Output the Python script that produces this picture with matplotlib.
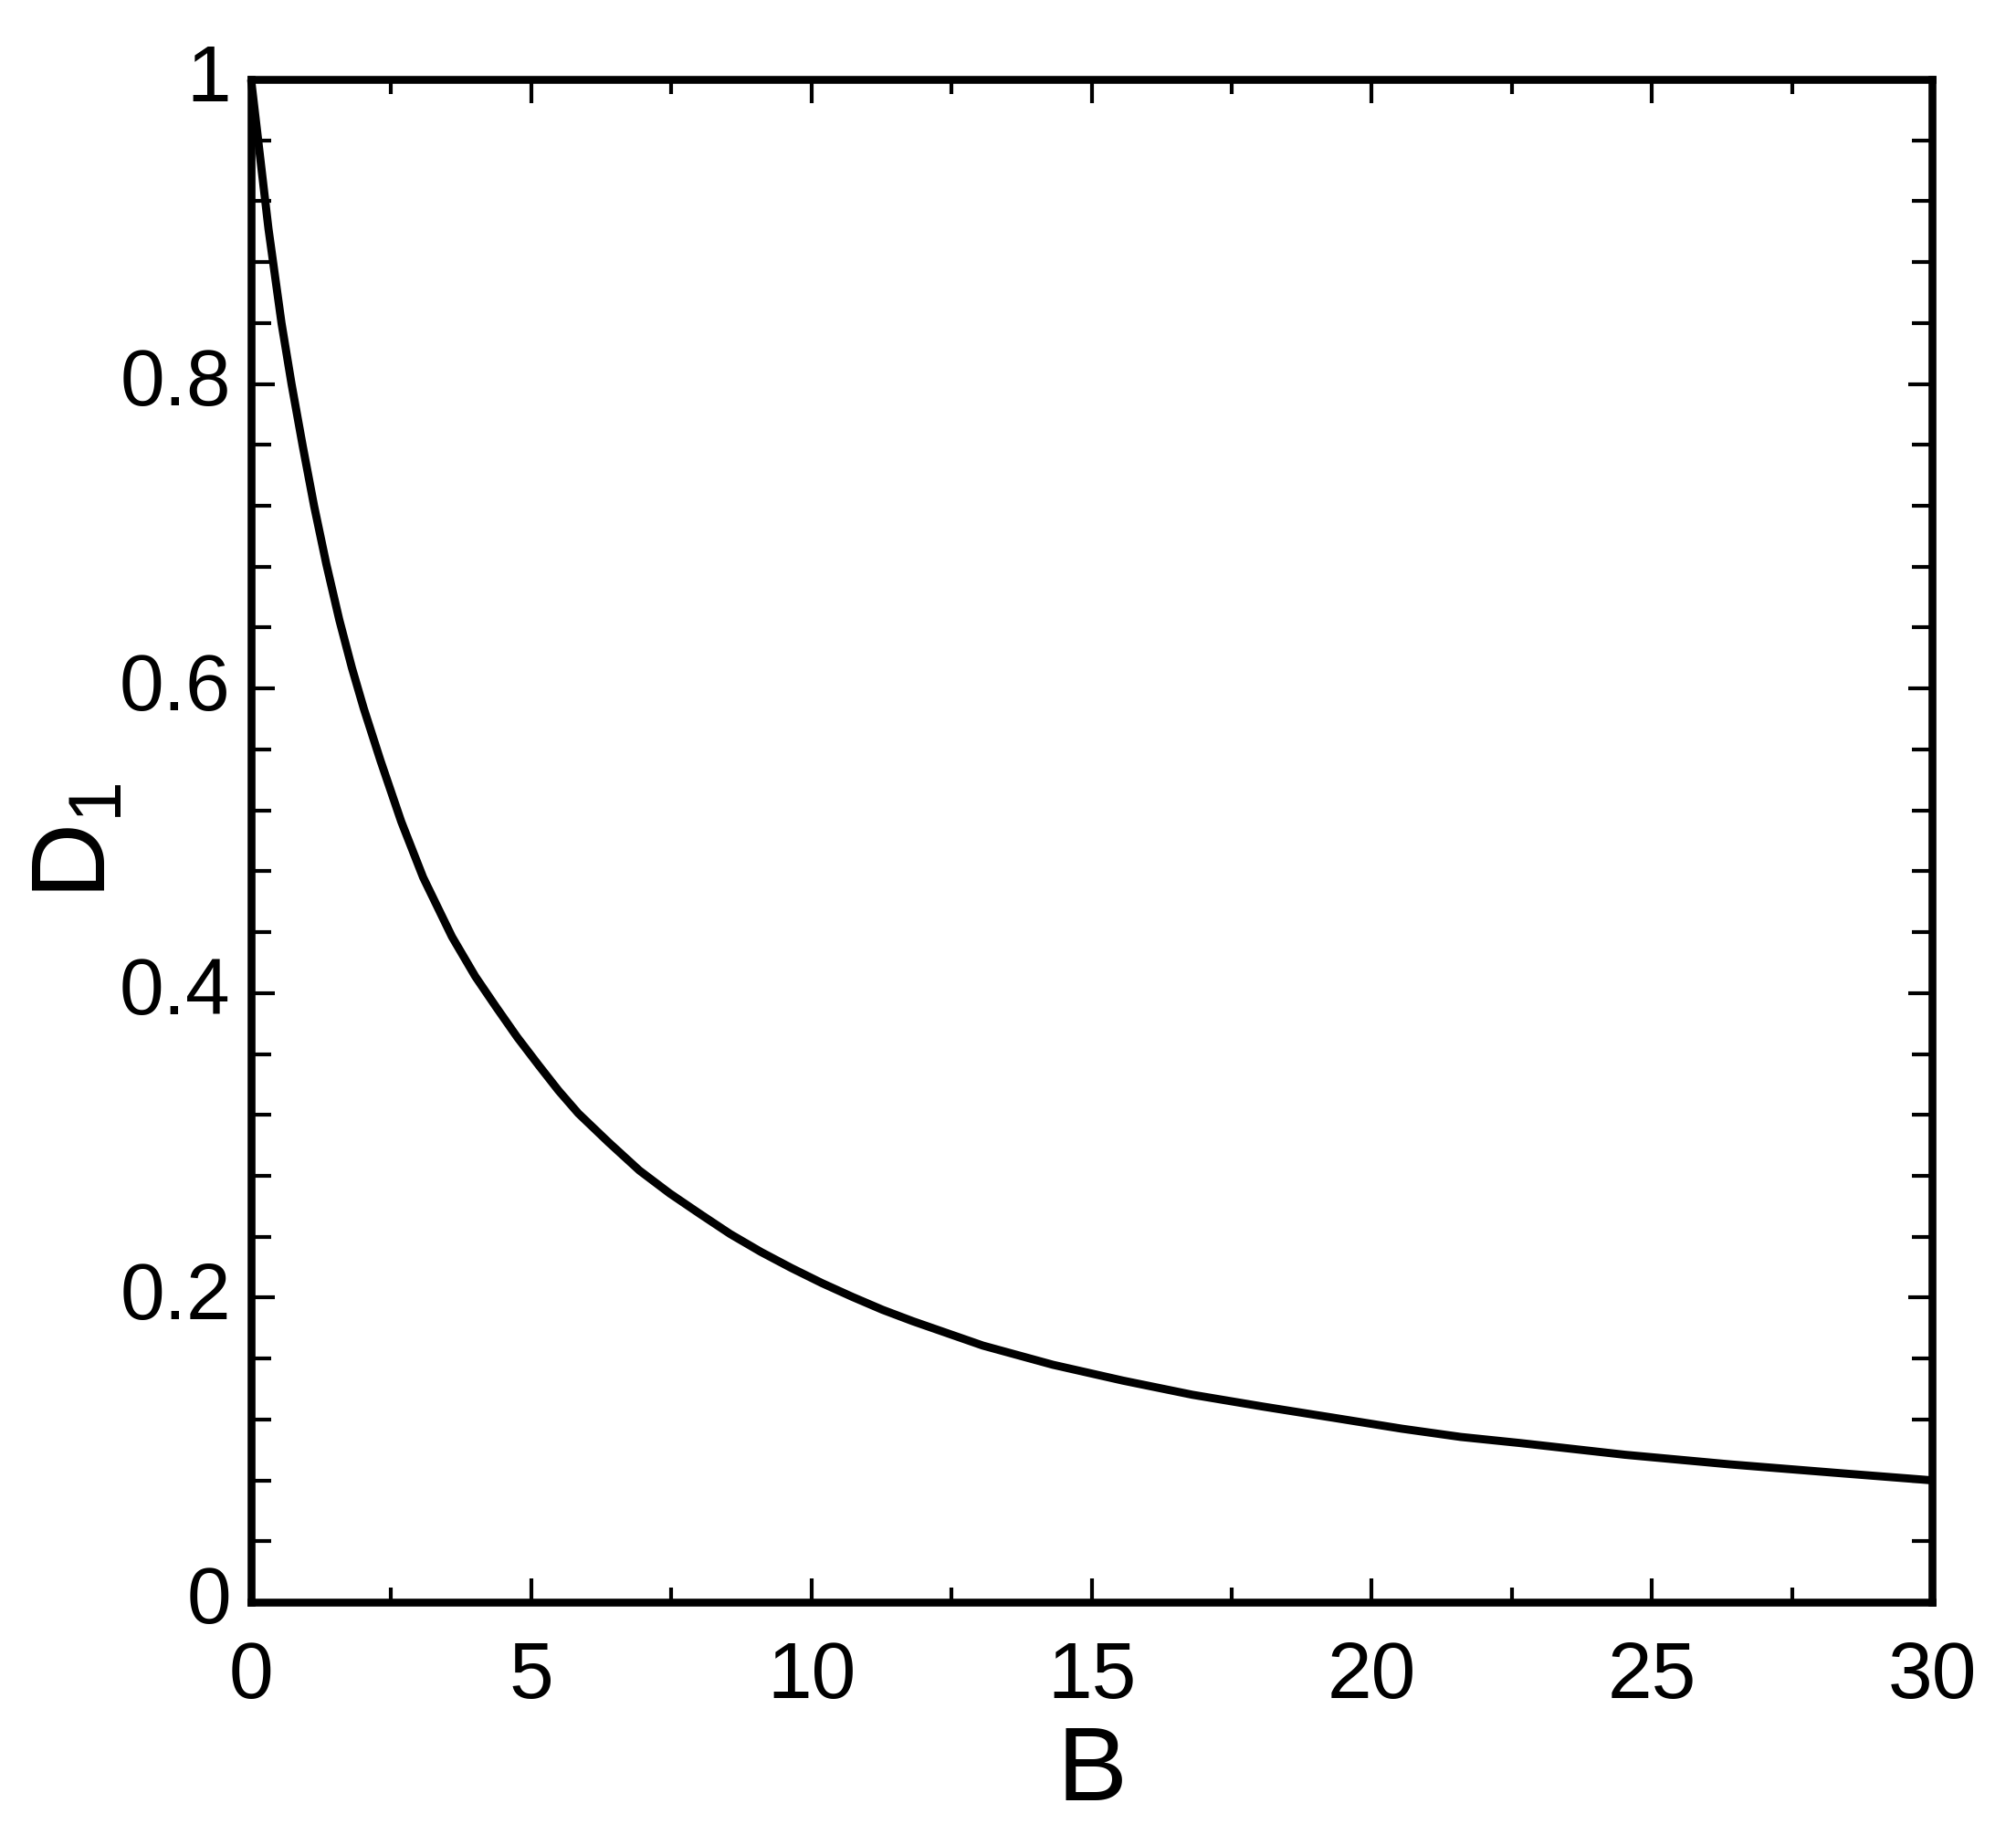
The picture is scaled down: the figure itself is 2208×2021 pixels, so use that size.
import matplotlib
matplotlib.use("Agg")
import matplotlib.pyplot as plt
from matplotlib.ticker import FixedLocator, MultipleLocator
from matplotlib.transforms import ScaledTranslation

plt.rcParams['font.family'] = ['Liberation Sans', 'DejaVu Sans']
plt.rcParams['mathtext.fontset'] = 'custom'
plt.rcParams['mathtext.rm'] = 'Liberation Sans'
plt.rcParams['mathtext.it'] = 'Liberation Sans:italic'

# values
B = [0, 0.31, 0.543, 0.722, 0.923, 1.124, 1.341, 1.575, 1.80, 2.01, 2.31,
     2.68, 3.07, 3.585, 4.0, 4.37, 4.75, 5.13, 5.486, 5.84, 6.38, 6.93, 7.47,
     8.01, 8.55, 9.10, 9.64, 10.19, 10.73, 11.27, 11.81, 13.06, 14.31, 15.56,
     16.80, 18.05, 19.30, 20.54, 21.59, 22.65, 24.52, 26.39, 28.26, 30.0]
D1 = [1.0, 0.902, 0.84, 0.80, 0.759, 0.72, 0.682, 0.645, 0.6135, 0.587, 0.5526,
      0.5126, 0.476, 0.437, 0.411, 0.391, 0.371, 0.3527, 0.336, 0.321, 0.302,
      0.2835, 0.2685, 0.255, 0.2418, 0.230, 0.2195, 0.2095, 0.2005, 0.192,
      0.1845, 0.1685, 0.1559, 0.1455, 0.1362, 0.1285, 0.1212, 0.1139, 0.1085,
      0.1045, 0.0968, 0.0905, 0.0850, 0.0800]

xticks = [0, 5, 10, 15, 20, 25, 30]
xticklabels = ["0", "5", "10", "15", "20", "25", "30"]
yticks = [0, 0.2, 0.4, 0.6, 0.8, 1.0]
yticklabels = ["0", "0.2", "0.4", "0.6", "0.8", "1"]

fig = plt.figure(figsize=(22.08, 20.21), dpi=100)
ax = fig.add_axes([0.12455, 0.13162, 0.83379, 0.82533])

ax.plot(B, D1, color='black', lw=6.4, clip_on=False, solid_capstyle='butt',
        solid_joinstyle='round')

ax.set_xlim(0, 30)
ax.set_ylim(0, 1)

ax.xaxis.set_major_locator(FixedLocator(xticks))
ax.set_xticklabels(xticklabels)
ax.xaxis.set_minor_locator(MultipleLocator(2.5))
ax.yaxis.set_major_locator(FixedLocator(yticks))
ax.set_yticklabels(yticklabels)
ax.yaxis.set_minor_locator(MultipleLocator(0.04))

for s in ax.spines.values():
    s.set_linewidth(6.2)

ax.tick_params(which='both', direction='in', top=True, right=True,
               width=3.0, labelsize=63)
ax.tick_params(which='major', length=18.5)
ax.tick_params(axis='x', which='major', pad=30)
ax.tick_params(axis='y', which='major', pad=16)
ax.tick_params(axis='x', which='minor', length=11.7)
ax.tick_params(axis='y', which='minor', length=15.6)

# nudge y tick labels up slightly, like the original
for lab in ax.get_yticklabels():
    lab.set_transform(lab.get_transform() + ScaledTranslation(0, 0.08, fig.dpi_scale_trans))

ax.set_xlabel("B", fontsize=83, labelpad=8)
ax.set_ylabel(r"$\mathrm{D}_{\mathrm{1}}$", fontsize=83, labelpad=-6)

fig.savefig("out.png", dpi=100)
